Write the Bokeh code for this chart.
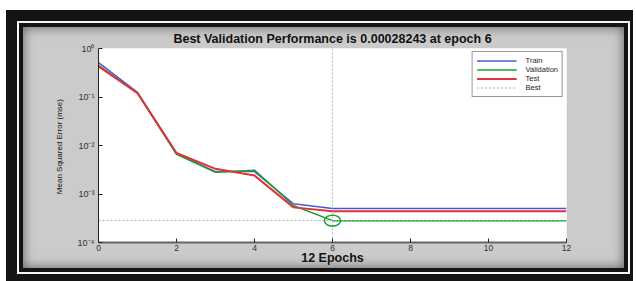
from bokeh.plotting import figure
from bokeh.models import (Legend, LegendItem, FixedTicker, InlineStyleSheet,
                          CustomJSTickFormatter, Range1d)
from bokeh.embed import file_html
from bokeh.resources import INLINE

# ---------------- data ----------------
epochs = [0, 1, 2, 3, 4, 5, 6, 7, 8, 9, 10, 11, 12]
train = [0.51, 0.124, 0.0068, 0.0029, 0.0029, 0.00063, 0.00050,
         0.00050, 0.00050, 0.00050, 0.00050, 0.00050, 0.00050]
validation = [0.45, 0.120, 0.0066, 0.0028, 0.0031, 0.00058, 0.00028243,
              0.00028243, 0.00028243, 0.00028243, 0.00028243, 0.00028243, 0.00028243]
test = [0.43, 0.120, 0.0070, 0.0033, 0.0024, 0.00053, 0.00044,
        0.00044, 0.00044, 0.00044, 0.00044, 0.00044, 0.00044]
best_epoch = 6
best_perf = 0.00028243
x_ticks = [0, 2, 4, 6, 8, 10, 12]
y_ticks = [1.0, 0.1, 0.01, 0.001, 0.0001]
y_tick_labels = ["10\u2070", "10\u207b\u00b9", "10\u207b\u00b2", "10\u207b\u00b3", "10\u207b\u2074"]
title_text = "Best Validation Performance is 0.00028243 at epoch 6"
x_label = "12 Epochs"
y_label = "Mean Squared Error  (mse)"
legend_labels = ["Train", "Validation", "Test", "Best"]

C_TRAIN = "#4a58d8"
C_VAL = "#1e9e2a"
C_TEST = "#e03238"
C_BEST = "#8cc0b4"

# framed look: white page edge, black frame, thin white line, thin black line,
# shaded gray panel
frame_css = InlineStyleSheet(css="""
:host { position: relative; }
:host::after {
  content: "";
  position: absolute;
  left: 6px; top: 10px; width: 627px; height: 271px;
  box-sizing: border-box;
  border-style: solid;
  border-color: #141414;
  border-width: 11px 3px 7px 11px;
  outline: 12px solid white;
  box-shadow: inset 0 0 0 2px #f6f6f6,
              inset 0 0 0 6px #141414,
              inset 0 0 12px 6px rgba(75,75,75,0.85);
  pointer-events: none;
}
""")

p = figure(width=636, height=281,
           x_range=Range1d(epochs[0], epochs[-1]),
           y_range=Range1d(y_ticks[-1], y_ticks[0]),
           y_axis_type="log",
           output_backend="svg", toolbar_location=None,
           title=title_text,
           border_fill_color="#cbcbcb", background_fill_color="white",
           outline_line_color=None,
           min_border_left=98, min_border_right=70,
           min_border_top=48, min_border_bottom=39)
p.stylesheets = [frame_css]

p.grid.visible = False

# ---- title ----
p.title.align = "center"
p.title.text_font = "Liberation Sans"
p.title.text_font_size = "12.5px"
p.title.text_font_style = "bold"
p.title.text_color = "#111111"
p.title.standoff = 6

# ---- axes ----
for ax in (p.xaxis[0], p.yaxis[0]):
    ax.axis_line_color = "#222222"
    ax.major_tick_in = 4
    ax.major_tick_out = 0
    ax.minor_tick_in = 2
    ax.minor_tick_out = 0
    ax.major_tick_line_color = "#222222"
    ax.minor_tick_line_color = "#444444"
    ax.major_label_text_font = "Liberation Sans"
    ax.major_label_text_font_size = "8.5px"
    ax.major_label_text_color = "#333333"
    ax.axis_label_text_font = "Liberation Sans"
    ax.axis_label_text_color = "#111111"

p.xaxis.ticker = FixedTicker(ticks=x_ticks, minor_ticks=[])
p.xaxis.major_label_standoff = 2
p.xaxis.axis_label = x_label
p.xaxis.axis_label_text_font_size = "12.5px"
p.xaxis.axis_label_text_font_style = "bold"
p.xaxis.axis_label_standoff = -3
p.xaxis.axis_line_color = "#666666"
p.xaxis.axis_line_width = 2

p.yaxis.ticker = FixedTicker(ticks=y_ticks, minor_ticks=[])
p.yaxis.formatter = CustomJSTickFormatter(
    args=dict(vals=y_ticks, labels=y_tick_labels),
    code="""
    for (let i = 0; i < vals.length; i++) {
        if (Math.abs(Math.log10(tick) - Math.log10(vals[i])) < 1e-6) return labels[i];
    }
    return '';
    """)
p.yaxis.major_label_text_font_size = "9px"
p.yaxis.major_label_standoff = 4
p.yaxis.axis_label = y_label
p.yaxis.axis_label_text_font_size = "8px"
p.yaxis.axis_label_text_font_style = "normal"
p.yaxis.axis_label_standoff = 11

# ---- data lines ----
r_train = p.line(epochs, train, line_color=C_TRAIN, line_width=1.5)
r_val = p.line(epochs, validation, line_color=C_VAL, line_width=1.5)
r_test = p.line(epochs, test, line_color=C_TEST, line_width=2)
r_best_h = p.line([epochs[0], epochs[-1]], [best_perf, best_perf],
                  line_color=C_BEST, line_width=1, line_dash="2 2")
r_best_v = p.line([best_epoch, best_epoch], [y_ticks[-1], y_ticks[0]],
                  line_color="#a8bccc", line_width=1, line_dash="2 2")
p.ellipse(x=[best_epoch], y=[best_perf], width=16, height=11,
          width_units="screen", height_units="screen",
          fill_color=None, line_color=C_VAL, line_width=1.5)

legend = Legend(items=[
    LegendItem(label=legend_labels[0], renderers=[r_train]),
    LegendItem(label=legend_labels[1], renderers=[r_val]),
    LegendItem(label=legend_labels[2], renderers=[r_test]),
    LegendItem(label=legend_labels[3], renderers=[r_best_h]),
], location="top_right")
legend.margin = 3
legend.padding = 4
legend.spacing = 0
legend.glyph_width = 40
legend.glyph_height = 7
legend.label_height = 7
legend.label_standoff = 9
legend.label_text_font = "Liberation Sans"
legend.label_text_font_size = "7.5px"
legend.label_text_color = "#222222"
legend.border_line_color = "#333333"
legend.border_line_width = 1
legend.background_fill_color = "white"
legend.background_fill_alpha = 1.0
p.add_layout(legend)

open("out.html", "w").write(file_html(p, INLINE))
